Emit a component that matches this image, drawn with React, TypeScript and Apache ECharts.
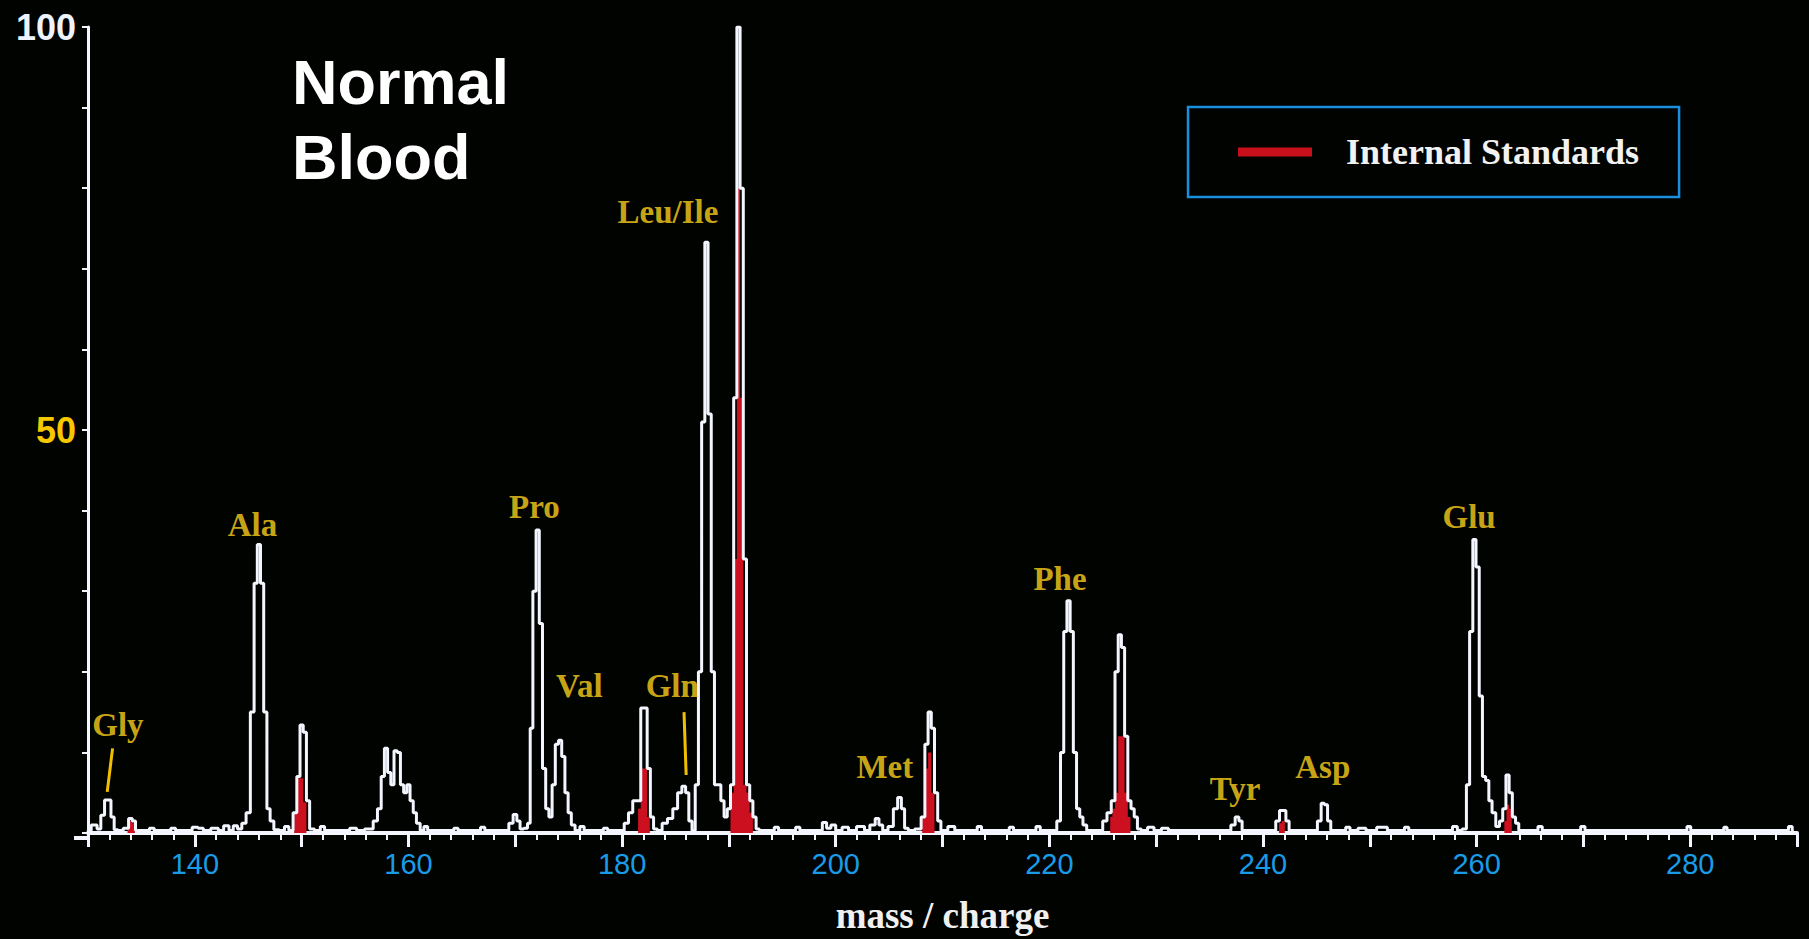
import React, { useEffect, useRef } from "react";
import * as echarts from "echarts";

// ---- spectrum trace (m/z, relative intensity) ----
const spectrum: [number, number][] = [
  [129.9, 0.3], [130.7, 1.0], [131.0, 0.5], [131.4, 2.2], [131.7, 4.1], [132.0, 4.1], [132.3, 2.0], [132.6, 0.4],
  [133.0, 0.3], [133.6, 0.6], [134.0, 1.8], [134.3, 1.5], [134.6, 0.3],
  [135.5, 0.3], [136.0, 0.6], [136.4, 0.3], [137.5, 0.3], [138.0, 0.6], [138.4, 0.3], [139.5, 0.3], [140.0, 0.7],
  [140.6, 0.6], [141.0, 0.3], [142.0, 0.6], [142.4, 0.3], [143.0, 0.9], [143.4, 0.3], [143.8, 0.9], [144.2, 0.5],
  [144.6, 1.2], [145.0, 2.5], [145.4, 15], [145.7, 31], [146.0, 35.8], [146.3, 31], [146.6, 15], [146.9, 3],
  [147.2, 1.5], [147.6, 0.4], [148.2, 0.3], [148.6, 0.8], [149.0, 0.3], [149.4, 2.5], [149.7, 7], [150.0, 13.4],
  [150.3, 12.5], [150.6, 4], [150.9, 0.5], [151.5, 0.3], [152.0, 0.8], [152.3, 0.3], [154.0, 0.3], [155.0, 0.6],
  [155.3, 0.3], [156.5, 0.5], [156.9, 1.5], [157.3, 3], [157.6, 7], [157.9, 10.5], [158.2, 7.5], [158.5, 6],
  [158.8, 10.2], [159.1, 10], [159.4, 6], [159.7, 5], [160.0, 6], [160.3, 4], [160.6, 2.5], [160.9, 1.2],
  [161.3, 0.3], [161.6, 0.8], [162.0, 0.3], [164.0, 0.3], [164.5, 0.6], [164.8, 0.3], [166.5, 0.3], [167.0, 0.7],
  [167.3, 0.3], [169.2, 0.3], [169.6, 1.2], [170.0, 2.3], [170.3, 1.5], [170.6, 0.5], [171.0, 0.6], [171.3, 1.2],
  [171.5, 13], [171.8, 30], [172.1, 37.6], [172.4, 26], [172.7, 8], [173.0, 3], [173.3, 2], [173.6, 6],
  [173.9, 11], [174.2, 11.5], [174.5, 9.5], [174.8, 5], [175.1, 2.5], [175.4, 1], [175.8, 0.3], [176.3, 0.8],
  [176.6, 0.3], [178.0, 0.3], [178.5, 0.6], [178.8, 0.3], [180.0, 0.3], [180.4, 1.2], [180.8, 2.5], [181.2, 4],
  [181.6, 4], [181.9, 15.5], [182.2, 15.5], [182.5, 8], [182.8, 2], [183.1, 0.5], [183.5, 0.3], [184.0, 1.2],
  [184.5, 1.8], [185.0, 3], [185.4, 5], [185.8, 5.8], [186.1, 5], [186.4, 1.5], [186.7, 0.3], [187.0, 6],
  [187.3, 20], [187.6, 51], [187.9, 73.3], [188.2, 52], [188.5, 20], [188.8, 6], [189.1, 6], [189.4, 4],
  [189.7, 2], [190.0, 3], [190.3, 6], [190.6, 54], [190.9, 100], [191.2, 80], [191.5, 34], [191.8, 6],
  [192.1, 4], [192.4, 2], [192.7, 0.5], [193.0, 0.3], [194.0, 0.3], [194.5, 0.7], [194.8, 0.3], [196.0, 0.3],
  [196.5, 0.7], [196.8, 0.3], [198.5, 0.3], [199.0, 1.3], [199.3, 0.6], [199.8, 1.0], [200.2, 0.3], [201.0, 0.7],
  [201.4, 0.3], [202.5, 0.8], [202.9, 0.3], [203.5, 1.0], [203.9, 1.8], [204.2, 1.0], [204.6, 0.3], [205.2, 0.8],
  [205.6, 3], [206.0, 4.4], [206.3, 3], [206.6, 0.6], [207.0, 0.3], [207.8, 0.5], [208.2, 2], [208.5, 11],
  [208.8, 15], [209.1, 13], [209.4, 5], [209.7, 1.5], [210.0, 0.3], [211.0, 0.8], [211.3, 0.3], [213.0, 0.3],
  [213.5, 0.8], [213.8, 0.3], [216.0, 0.3], [216.5, 0.7], [216.8, 0.3], [218.5, 0.3], [219.0, 0.8], [219.3, 0.3],
  [220.5, 0.3], [220.9, 1.5], [221.2, 10], [221.5, 25], [221.8, 28.8], [222.1, 25], [222.4, 10], [222.7, 3],
  [223.0, 2], [223.3, 1], [223.7, 0.3], [224.8, 0.3], [225.2, 1.5], [225.6, 2.5], [226.0, 4], [226.3, 20],
  [226.6, 24.6], [226.9, 23], [227.2, 12], [227.5, 4], [227.8, 3], [228.1, 2], [228.4, 0.5], [228.8, 0.3],
  [229.6, 0.7], [230.0, 0.3], [231.0, 0.6], [231.3, 0.3], [236.8, 0.3], [237.2, 1], [237.6, 2], [237.9, 1.5],
  [238.2, 0.3], [241.0, 0.3], [241.4, 1.5], [241.7, 2.8], [242.0, 2.8], [242.3, 1.5], [242.6, 0.3], [244.9, 0.3],
  [245.3, 1.5], [245.6, 3.7], [245.9, 3.5], [246.2, 1.5], [246.5, 0.3], [247.5, 0.3], [248.0, 0.7], [248.3, 0.3],
  [249.5, 0.6], [249.8, 0.3], [251.5, 0.7], [251.8, 0.3], [253.0, 0.3], [253.5, 0.7], [253.8, 0.3], [257.5, 0.3],
  [258.0, 0.8], [258.4, 0.3], [258.9, 0.5], [259.2, 6], [259.5, 25], [259.8, 36.4], [260.1, 33], [260.4, 17],
  [260.7, 7], [261.0, 6.5], [261.3, 4], [261.6, 2.5], [262.0, 0.8], [262.3, 1.5], [262.6, 3], [262.9, 7.2],
  [263.2, 5], [263.5, 2], [263.8, 1.2], [264.1, 0.3], [265.5, 0.3], [266.0, 0.8], [266.3, 0.3], [269.5, 0.3],
  [270.0, 0.8], [270.3, 0.3], [279.5, 0.3], [279.9, 0.8], [280.2, 0.3], [283.0, 0.3], [283.3, 0.7], [283.6, 0.3],
  [289.0, 0.3], [289.4, 0.8], [289.7, 0.3],
];

// ---- internal standards (red filled part) ----
const standards: [number, number][] = [
  [133.6, 0], [133.8, 1.2], [134.0, 1.5], [134.3, 1.2], [134.5, 0],
  [149.2, 0], [149.4, 2.5], [149.7, 6.8], [150.0, 6.8], [150.3, 3.8], [150.6, 0],
  [181.4, 0], [181.6, 3], [181.9, 8], [182.2, 8], [182.5, 2], [182.7, 0],
  [190.0, 0], [190.3, 5], [190.6, 34], [190.9, 80], [191.2, 54], [191.5, 6], [191.8, 5], [192.1, 2.5], [192.4, 0],
  [208.0, 0], [208.2, 2], [208.5, 8], [208.8, 10], [209.1, 5], [209.4, 0],
  [225.6, 0], [225.8, 2], [226.0, 3], [226.3, 5], [226.6, 12], [226.9, 12], [227.2, 5], [227.5, 2], [227.7, 0],
  [241.4, 0], [241.6, 1.2], [241.9, 1.5], [242.2, 0],
  [262.5, 0], [262.7, 1.5], [262.9, 3.5], [263.2, 3], [263.4, 0],
];

// ---- peak labels ----
const peakNames = ["Gly", "Ala", "Pro", "Val", "Gln", "Leu/Ile", "Met", "Phe", "Tyr", "Asp", "Glu"];
const peakLabelMz = [132.8, 145.4, 171.8, 176.0, 184.7, 184.3, 204.6, 221.0, 237.4, 245.6, 259.3];
const peakLabelY = [13.4, 38.2, 40.5, 18.3, 18.2, 77.1, 8.2, 31.5, 5.5, 8.2, 39.2];

// pointer lines (Gly, Gln)
const pointerFrom: [number, number][] = [[132.3, 10.5], [185.8, 15.0]];
const pointerTo: [number, number][] = [[131.8, 5.1], [186.0, 7.2]];

const yLabelValues = [100, 50];
const legendName = "Internal Standards";
const chartTitle = "Normal\nBlood";
const xAxisName = "mass / charge";

export default function App() {
  const ref = useRef<HTMLDivElement>(null);
  useEffect(() => {
    if (!ref.current) return;
    const chart = echarts.init(ref.current, undefined, { renderer: "svg" });
    const labelData = peakNames.map((n, i) => ({ name: n, value: [peakLabelMz[i], peakLabelY[i]] }));
    const pointerData = pointerFrom.map((p, i) => [{ coord: p }, { coord: pointerTo[i] }]);
    chart.setOption({
      animation: false,
      backgroundColor: "#010301",
      title: {
        text: chartTitle,
        left: 287,
        top: 39,
        textStyle: {
          color: "#ffffff",
          fontSize: 63,
          fontWeight: "bold",
          fontFamily: "Liberation Sans, Arial, sans-serif",
          lineHeight: 75,
        },
      },
      legend: {
        left: 1188,
        top: 107,
        data: [{ name: legendName, icon: "rect" }],
        itemWidth: 74,
        itemHeight: 9,
        padding: [27, 40, 27, 50],
        borderColor: "#1a8fe0",
        borderWidth: 2.5,
        selectedMode: false,
        textStyle: {
          color: "#f2f2f2",
          fontFamily: "Liberation Serif, serif",
          fontSize: 36,
          fontWeight: "bold",
          padding: [0, 0, 0, 29],
        },
      },
      graphic: [
        {
          type: "line",
          shape: { x1: 74, y1: 838, x2: 90, y2: 838 },
          style: { stroke: "#f4f6ff", lineWidth: 4 },
          z: 10,
        },
      ],
      grid: { left: 88, right: 12, top: 27, bottom: 101, containLabel: false },
      xAxis: {
        type: "value",
        min: 130,
        max: 290,
        interval: 10,
        name: xAxisName,
        nameLocation: "middle",
        nameGap: 64,
        nameTextStyle: {
          color: "#f0f0f0",
          fontFamily: "Liberation Serif, serif",
          fontSize: 37,
          fontWeight: "bold",
        },
        axisLine: { lineStyle: { color: "#f4f6ff", width: 4 } },
        axisTick: { length: 14, lineStyle: { color: "#f4f6ff", width: 3 } },
        minorTick: { show: true, splitNumber: 5, length: 7, lineStyle: { color: "#f4f6ff", width: 2 } },
        splitLine: { show: false },
        minorSplitLine: { show: false },
        axisLabel: {
          color: "#1a9be8",
          fontSize: 29,
          fontFamily: "Liberation Sans, Arial, sans-serif",
          margin: 16,
          formatter: (v: number) => (v % 20 === 0 && v > 130 && v < 290 ? String(v) : ""),
        },
      },
      yAxis: {
        type: "value",
        min: 0,
        max: 100,
        interval: 10,
        axisLine: { show: true, lineStyle: { color: "#f4f6ff", width: 3 } },
        axisTick: { show: true, length: 6, lineStyle: { color: "#f4f6ff", width: 2 } },
        splitLine: { show: false },
        axisLabel: {
          margin: 12,
          fontSize: 36,
          fontWeight: "bold",
          fontFamily: "Liberation Sans, Arial, sans-serif",
          formatter: (v: number) =>
            v === yLabelValues[0] ? "{w|" + v + "}" : v === yLabelValues[1] ? "{y|" + v + "}" : "",
          rich: {
            w: { color: "#eef2fa", fontSize: 36, fontWeight: "bold", fontFamily: "Liberation Sans, Arial, sans-serif" },
            y: { color: "#f7c800", fontSize: 36, fontWeight: "bold", fontFamily: "Liberation Sans, Arial, sans-serif" },
          },
        },
      },
      series: [
        {
          name: legendName,
          type: "line",
          step: "middle",
          data: standards,
          symbol: "none",
          color: "#c8101c",
          itemStyle: { color: "#c8101c" },
          lineStyle: { width: 0, color: "#c8101c" },
          areaStyle: { color: "#cc1020", opacity: 1 },
          z: 2,
        },
        {
          name: "spectrum",
          type: "line",
          step: "middle",
          data: spectrum,
          symbol: "none",
          lineStyle: { color: "#f4f6ff", width: 3 },
          z: 3,
        },
        {
          name: "labels",
          type: "scatter",
          data: labelData,
          symbolSize: 1,
          itemStyle: { color: "rgba(0,0,0,0)" },
          label: {
            show: true,
            position: "inside",
            formatter: "{b}",
            color: "#ffd21c",
            fontFamily: "Liberation Serif, serif",
            fontWeight: "bold",
            fontSize: 33,
          },
          markLine: {
            silent: true,
            symbol: ["none", "none"],
            label: { show: false },
            lineStyle: { color: "#f0c000", width: 3, type: "solid" },
            data: pointerData,
          },
          z: 4,
        },
      ],
    });
    return () => chart.dispose();
  }, []);
  return <div ref={ref} style={{ position: "fixed", left: 0, top: 0, width: 1809, height: 939 }} />;
}
